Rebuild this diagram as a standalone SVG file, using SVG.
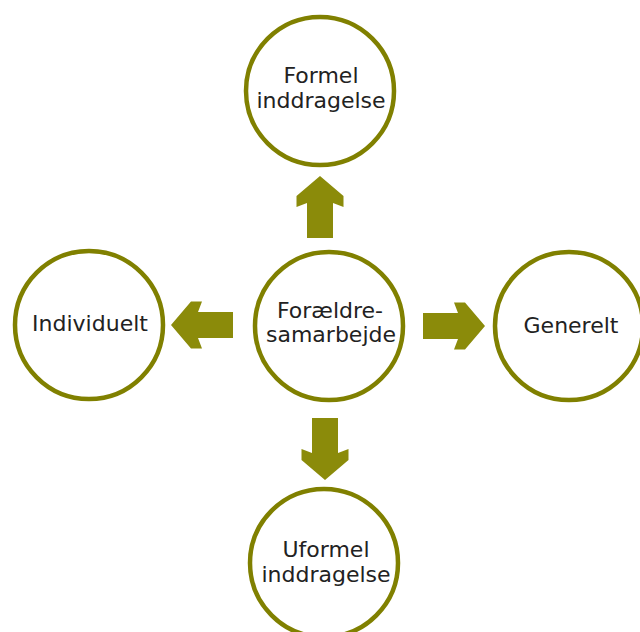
<svg xmlns="http://www.w3.org/2000/svg" width="640" height="632" viewBox="0 0 640 632">
<style>
.node circle{fill:#ffffff;stroke:#808000;stroke-width:4.5}
.node text{font-family:"DejaVu Sans",Verdana,sans-serif;font-size:22px;fill:#222222;text-anchor:middle}
.arrow{fill:#8b8b0a}
</style>
<defs>
<polygon id="arr" points="0,0 -20,-23.5 -31,-23.5 -27,-13 -62,-13 -62,13 -27,13 -31,23.5 -20,23.5"/>
</defs>
<rect width="640" height="632" fill="#ffffff"/>
<g id="connectors">
<use href="#arr" class="arrow" transform="translate(320,176) rotate(-90)"/>
<use href="#arr" class="arrow" transform="translate(325,480) rotate(90)"/>
<use href="#arr" class="arrow" transform="translate(171,325) rotate(180)"/>
<use href="#arr" class="arrow" transform="translate(485,326)"/>
</g>
<g id="center" class="node">
<circle cx="329" cy="326" r="74"/>
<text x="330" y="318">Forældre-</text>
<text x="331" y="342">samarbejde</text>
</g>
<g id="top" class="node">
<circle cx="320" cy="91" r="74"/>
<text x="321" y="83">Formel</text>
<text x="321" y="108">inddragelse</text>
</g>
<g id="left" class="node">
<circle cx="89" cy="325" r="74"/>
<text x="90" y="331">Individuelt</text>
</g>
<g id="right" class="node">
<circle cx="569" cy="326" r="74"/>
<text x="571" y="333">Generelt</text>
</g>
<g id="bottom" class="node">
<circle cx="324" cy="563" r="74"/>
<text x="326" y="557">Uformel</text>
<text x="326" y="582">inddragelse</text>
</g>
</svg>
